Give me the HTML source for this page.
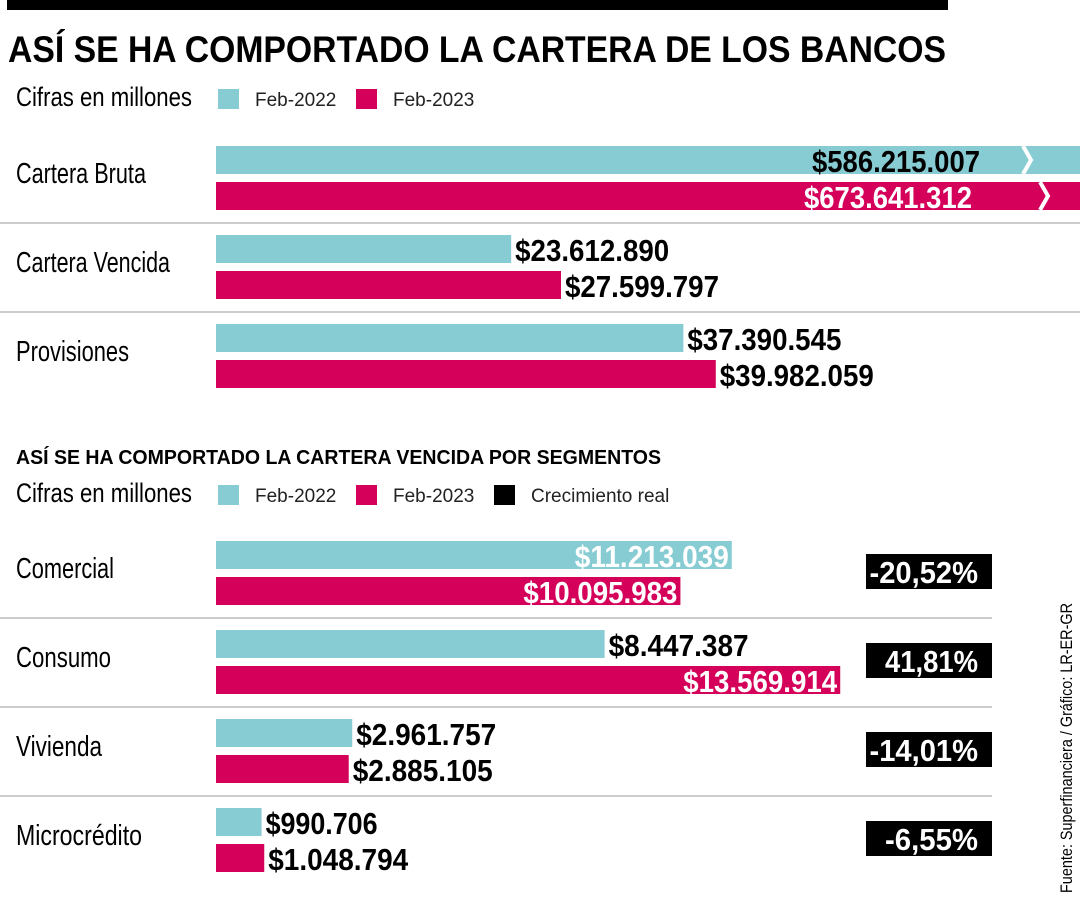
<!DOCTYPE html>
<html><head><meta charset="utf-8"><style>
html,body{margin:0;padding:0;background:#fff}
svg{display:block}
.t{font-family:"Liberation Sans Narrow","Liberation Sans",sans-serif}
</style></head><body>
<svg id="c" width="1080" height="900" viewBox="0 0 1080 900" xmlns="http://www.w3.org/2000/svg" class="t">
<rect x="7" y="0" width="941" height="10" fill="#000"/>
<text x="8" y="62" font-size="37" font-weight="bold" font-family="Liberation Sans" textLength="938" lengthAdjust="spacingAndGlyphs">ASÍ SE HA COMPORTADO LA CARTERA DE LOS BANCOS</text>
<text x="16" y="106" font-size="27" textLength="176" lengthAdjust="spacingAndGlyphs">Cifras en millones</text>
<rect x="218" y="89" width="21" height="20" fill="#88ccd3"/>
<text x="255" y="106" font-size="19" font-family="Liberation Sans" fill="#222">Feb-2022</text>
<rect x="356" y="89" width="21" height="20" fill="#d4005a"/>
<text x="393" y="106" font-size="19" font-family="Liberation Sans" fill="#222">Feb-2023</text>
<text x="16" y="464" font-size="20" font-weight="bold" font-family="Liberation Sans" textLength="645" lengthAdjust="spacingAndGlyphs">ASÍ SE HA COMPORTADO LA CARTERA VENCIDA POR SEGMENTOS</text>
<text x="16" y="502" font-size="27" textLength="176" lengthAdjust="spacingAndGlyphs">Cifras en millones</text>
<rect x="218" y="485" width="21" height="20" fill="#88ccd3"/>
<text x="255" y="502" font-size="19" font-family="Liberation Sans" fill="#222">Feb-2022</text>
<rect x="356" y="485" width="21" height="20" fill="#d4005a"/>
<text x="393" y="502" font-size="19" font-family="Liberation Sans" fill="#222">Feb-2023</text>
<rect x="494" y="485" width="21" height="20" fill="#000"/>
<text x="531" y="502" font-size="19" font-family="Liberation Sans" fill="#222">Crecimiento real</text>
<text transform="translate(1072,893) rotate(-90)" font-size="17" textLength="290" lengthAdjust="spacingAndGlyphs">Fuente: Superfinanciera / Gráfico: LR-ER-GR</text>
<g id="g1"></g><g id="g2"></g>
</svg>
<script>
const cats1=["Cartera Bruta","Cartera Vencida","Provisiones"];
const v2022a=[586215007,23612890,37390545];
const v2023a=[673641312,27599797,39982059];
const cats2=["Comercial","Consumo","Vivienda","Microcrédito"];
const v2022b=[11213039,8447387,2961757,990706];
const v2023b=[10095983,13569914,2885105,1048794];
const growth=["-20,52%","41,81%","-14,01%","-6,55%"];

const NS="http://www.w3.org/2000/svg";
const X0=216;
const x1=v=>v/1e6*12.5;
const x2=v=>v/1e6*46;
const catW={"Cartera Bruta":130,"Cartera Vencida":154,"Provisiones":113,"Comercial":98,"Consumo":95,"Vivienda":86,"Microcrédito":126};
function fmt(v){return "$"+String(v).replace(/\B(?=(\d{3})+(?!\d))/g,".");}
function mk(tag,attrs,parent){const e=document.createElementNS(NS,tag);for(const k in attrs)e.setAttribute(k,attrs[k]);parent.appendChild(e);return e;}

function section(g,cats,a,b,scale,top,step,sepEnd,maxX,insideMin){
  cats.forEach((c,i)=>{
    const y=top+i*step;
    const t=mk("text",{x:16,y:y+37,"font-size":29,textLength:catW[c],lengthAdjust:"spacingAndGlyphs"},g);t.textContent=c;
    
    
    if(i>0){const l=mk("line",{x1:0,x2:sepEnd,y1:y-12,y2:y-12,stroke:"#bbb","stroke-width":1.5},g);
      
      }
    [[a[i],"#88ccd3",0],[b[i],"#d4005a",36]].forEach(([v,col,dy])=>{
      let w=scale(v);const clipped=X0+w>maxX;if(clipped)w=maxX-X0;
      const r=mk("rect",{x:X0,y:y+dy,width:w,height:28,fill:col},g);
      
      
      const s=fmt(v);
      const lw=14*s.length;
      const lab=mk("text",{"font-size":31,"font-weight":"bold",y:y+dy+26,textLength:lw,lengthAdjust:"spacingAndGlyphs"},g);
      lab.textContent=s;
      
      
      if(clipped){
        const bx=dy?1040:1023;
        lab.setAttribute("x",(dy?972:980)-lw);
        lab.setAttribute("fill",dy?"#fff":"#000");
        const p=mk("polyline",{points:`${bx},${y+dy} ${bx+8},${y+dy+14} ${bx},${y+dy+28}`,fill:"none",stroke:"#fff","stroke-width":4},g);
        
        
      }else if(v>=insideMin && w>lw+10){
        lab.setAttribute("x",X0+w-3-lw);lab.setAttribute("fill","#fff");
      }else{
        lab.setAttribute("x",X0+w+4);lab.setAttribute("fill","#000");
      }
    });
  });
}
section(document.getElementById("g1"),cats1,v2022a,v2023a,x1,146,89,1080,1080,Infinity);
section(document.getElementById("g2"),cats2,v2022b,v2023b,x2,541,89,992,1080,1e7);
const g2=document.getElementById("g2");
growth.forEach((s,i)=>{
  const y=554+i*89;
  const r=mk("rect",{x:866,y:y,width:126,height:35,fill:"#000"},g2);
  
  
  const lw=15.5*s.length;
  const t=mk("text",{x:978-lw,y:y+29,"font-size":31,"font-weight":"bold",fill:"#fff",textLength:lw,lengthAdjust:"spacingAndGlyphs"},g2);
  t.textContent=s;
  
  
});
</script>
</body></html>
